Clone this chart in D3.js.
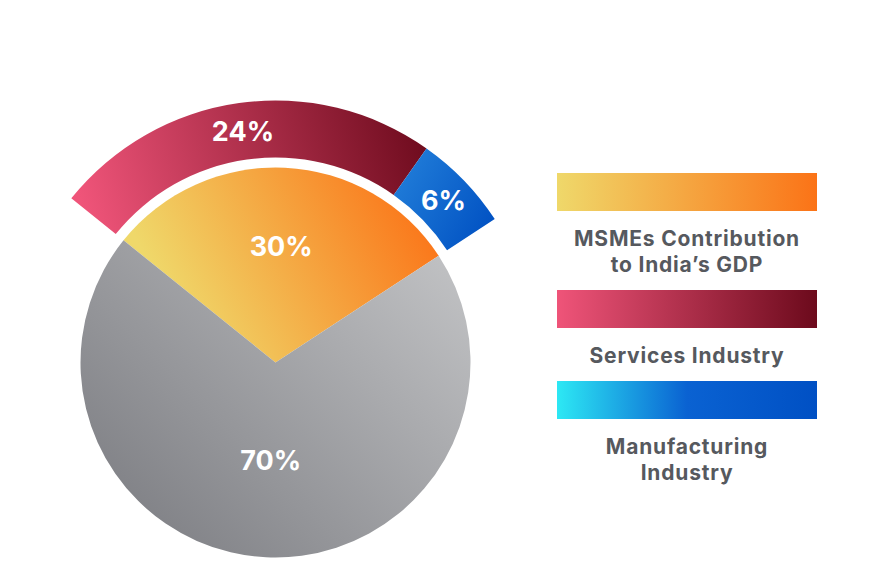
<!DOCTYPE html>
<html>
<head>
<meta charset="utf-8">
<script src="https://cdn.jsdelivr.net/npm/d3@7"></script>
<style>
  html, body { margin: 0; padding: 0; background: #fff; }
  svg { display: block; }
  text { font-family: Inter, "Open Sans", sans-serif; font-weight: 700; }
</style>
</head>
<body>
<svg id="chart" width="880" height="580"></svg>
<script>
// Inner pie: MSMEs share of GDP vs the rest
const innerKeys = ['msme', 'rest'];
const innerValues = [30, 70];
const innerLabels = ['30%', '70%'];

// Outer ring: the MSME share split by sector
const outerKeys = ['services', 'manufacturing'];
const outerValues = [24, 6];
const outerLabels = ['24%', '6%'];

// Legend entries (one text line per array item)
const legendKeys = ['msme', 'services', 'manufacturing'];
const legendLines = [
    ['MSMEs Contribution', 'to India\u2019s GDP'],
    ['Services Industry'],
    ['Manufacturing', 'Industry']
];

// Colour ramps for each key
const ramps = {
    msme: ['#efd86a', '#fb7317'],
    rest: ['#7e7f84', '#c2c3c5'],
    services: ['#ef5479', '#6c0a1c'],
    manufacturing: ['#1d78d6', '#0050c2'],
    legendManufacturing: ['#2de8f4', '#0a62d2', '#0050c4']
};

const svg = d3.select('#chart');
const defs = svg.append('defs');

const cx = 275.5, cy = 362.5;
const pieRadius = 195;
const ringInner = 205, ringOuter = 262;
const rotation = -51.2 * Math.PI / 180;

// Diagonal gradients for the pie, coords relative to the pie centre
function addDiagGradient(id, colors, x1, y1, x2, y2) {
    const g = defs.append('linearGradient')
        .attr('id', id)
        .attr('gradientUnits', 'userSpaceOnUse')
        .attr('x1', x1 - cx).attr('y1', y1 - cy)
        .attr('x2', x2 - cx).attr('y2', y2 - cy);
    colors.forEach((c, i) => {
        g.append('stop')
            .attr('offset', i / (colors.length - 1))
            .attr('stop-color', c);
    });
}

addDiagGradient('g-rest', ramps.rest, 130, 540, 440, 230);
addDiagGradient('g-msme', ramps.msme, 180, 320, 420, 190);
addDiagGradient('g-services', ramps.services, 90, 230, 430, 130);
addDiagGradient('g-manufacturing', ramps.manufacturing, 400, 190, 490, 240);

// Horizontal gradients for legend bars
function addHorizGradient(id, colors) {
    const g = defs.append('linearGradient')
        .attr('id', id)
        .attr('x1', 0).attr('y1', 0)
        .attr('x2', 1).attr('y2', 0);
    colors.forEach((c, i) => {
        g.append('stop')
            .attr('offset', i / (colors.length - 1))
            .attr('stop-color', c);
    });
}
addHorizGradient('l-msme', ramps.msme);
addHorizGradient('l-services', ramps.services);
addHorizGradient('l-manufacturing', ramps.legendManufacturing);

const pieG = svg.append('g').attr('transform', `translate(${cx},${cy})`);

// Inner pie
const innerPie = d3.pie()
    .sort(null)
    .startAngle(rotation)
    .endAngle(rotation + 2 * Math.PI)
    .value(d => d);

const innerArcs = innerPie(innerValues);
const innerArc = d3.arc().innerRadius(0).outerRadius(pieRadius);

pieG.selectAll('.inner')
    .data(innerArcs)
    .enter()
    .append('path')
    .attr('class', 'inner')
    .attr('d', innerArc)
    .attr('fill', (d, i) => `url(#g-${innerKeys[i]})`);

// Outer ring spans the same angle as the MSME slice
const total = d3.sum(innerValues);
const outerPie = d3.pie()
    .sort(null)
    .startAngle(rotation)
    .endAngle(rotation + 2 * Math.PI * d3.sum(outerValues) / total)
    .value(d => d);

const outerArcs = outerPie(outerValues);
const outerArc = d3.arc().innerRadius(ringInner).outerRadius(ringOuter);

pieG.selectAll('.outer')
    .data(outerArcs)
    .enter()
    .append('path')
    .attr('class', 'outer')
    .attr('d', outerArc)
    .attr('fill', (d, i) => `url(#g-${outerKeys[i]})`);

// Labels
const innerLabelRadius = [116, 98];
pieG.selectAll('.inner-label')
    .data(innerArcs)
    .enter()
    .append('text')
    .attr('class', 'inner-label')
    .attr('transform', (d, i) => {
        const r = innerLabelRadius[i];
        const c = d3.arc().innerRadius(r).outerRadius(r).centroid(d);
        return `translate(${c[0]},${c[1]})`;
    })
    .attr('text-anchor', 'middle')
    .attr('dy', '0.36em')
    .attr('fill', '#fff')
    .style('font-size', '27px')
    .text((d, i) => innerLabels[i]);

pieG.selectAll('.outer-label')
    .data(outerArcs)
    .enter()
    .append('text')
    .attr('class', 'outer-label')
    .attr('transform', d => {
        const c = outerArc.centroid(d);
        return `translate(${c[0]},${c[1]})`;
    })
    .attr('text-anchor', 'middle')
    .attr('dy', '0.36em')
    .attr('fill', '#fff')
    .style('font-size', '27px')
    .text((d, i) => outerLabels[i]);

// Legend
const legend = svg.append('g').attr('class', 'legend');
const barX = 557, barW = 260, barH = 38;
const textGap = 35, lineH = 26, afterText = 18;
let y = 173;

legendKeys.forEach((key, i) => {
    legend.append('rect')
        .attr('x', barX)
        .attr('y', y)
        .attr('width', barW)
        .attr('height', barH)
        .attr('fill', `url(#l-${key})`);
    y += barH + textGap;
    legendLines[i].forEach((line, j) => {
        if (j > 0) y += lineH;
        legend.append('text')
            .attr('x', barX + barW / 2)
            .attr('y', y)
            .attr('text-anchor', 'middle')
            .attr('fill', '#56595e')
            .style('font-size', '21px')
            .style('letter-spacing', '0.8px')
            .text(line);
    });
    y += afterText;
});
</script>
</body>
</html>
